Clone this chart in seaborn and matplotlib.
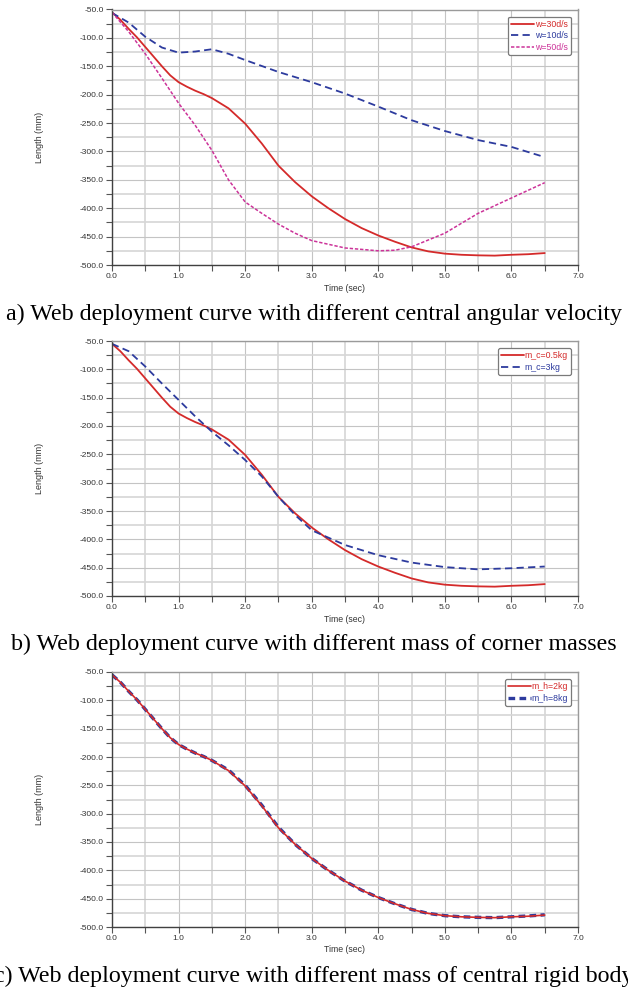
import matplotlib
matplotlib.use("Agg")
import matplotlib.pyplot as plt
import seaborn as sns
import numpy as np
from matplotlib.ticker import MultipleLocator, FormatStrFormatter

# ---------------- data ----------------
t_base = [0.0, 0.125, 0.25, 0.375, 0.5, 0.625, 0.75, 0.875, 1.0, 1.125, 1.25, 1.375, 1.5, 1.75,
          2.0, 2.25, 2.5, 2.75, 3.0, 3.25, 3.5, 3.75, 4.0, 4.25, 4.5, 4.75, 5.0, 5.25, 5.5,
          5.75, 6.0, 6.25, 6.5]
len_w30 = [-55, -68, -84, -99, -116, -133, -150, -166, -178, -186, -193, -199, -206, -224,
           -251, -286, -325, -354, -379, -400, -419, -435, -448, -459, -469, -476, -480, -482,
           -483, -483.5, -482, -481, -479]

t_w10 = [0.0, 0.25, 0.5, 0.75, 1.0, 1.25, 1.5, 1.75, 2.0, 2.5, 3.0, 3.5, 4.0, 4.5, 5.0, 5.5, 6.0, 6.5]
len_w10 = [-56, -73, -98, -117, -126, -124, -120, -128, -139, -160, -178, -198, -221, -245, -264, -280, -292, -310]

t_w50 = [0.0, 0.25, 0.5, 0.75, 1.0, 1.25, 1.5, 1.75, 2.0, 2.25, 2.5, 2.75, 3.0, 3.5, 4.0, 4.25,
         4.5, 5.0, 5.5, 6.0, 6.5]
len_w50 = [-55, -89, -128, -171, -215, -254, -298, -350, -389, -409, -428, -444, -457, -470, -475,
           -474, -468, -444, -409, -382, -355]

t_mc05 = t_base
len_mc05 = len_w30
t_mc3 = [0.0, 0.25, 0.5, 0.75, 1.0, 1.25, 1.5, 1.75, 2.0, 2.25, 2.5, 2.75, 3.0, 3.25, 3.5, 4.0,
         4.5, 5.0, 5.5, 6.0, 6.5]
len_mc3 = [-55, -68, -95, -125, -154, -183, -210, -234, -260, -289, -325, -357, -384, -397, -410,
           -428, -441, -449, -453, -451, -448]

t_mh2 = t_base
len_mh2 = len_w30
t_mh8 = t_base
len_mh8 = [-55, -68, -84, -99, -116, -133, -150, -166, -178, -186, -193, -199, -206, -223,
           -250, -285, -324, -354, -379, -400, -419, -435, -448, -459, -469, -476, -480, -482,
           -483, -483.5, -482, -480.5, -478.5]

captions = ["a) Web deployment curve with different central angular velocity",
            "b) Web deployment curve with different mass of corner masses",
            "c) Web deployment curve with different mass of central rigid body"]

RED = "#d42a2a"
BLUE = "#2d3b9e"
MAG = "#cc3399"

# ---------------- figure ----------------
sns.set_theme(style="white")
plt.rcParams["font.family"] = ["Liberation Sans", "DejaVu Sans"]

W, H = 628, 990
fig = plt.figure(figsize=(W / 100, H / 100), dpi=100)

panels = [(9.5, 265), (341, 596), (672, 927)]
cap_base = [320, 650, 982]
x0, x1 = 112, 578


def make_ax(top, bot):
    ax = fig.add_axes([x0 / W, 1 - bot / H, (x1 - x0) / W, (bot - top) / H])
    ax.set_xlim(0, 7)
    ax.set_ylim(-500, -50)
    ax.xaxis.set_major_locator(MultipleLocator(1))
    ax.xaxis.set_minor_locator(MultipleLocator(0.5))
    ax.yaxis.set_major_locator(MultipleLocator(50))
    ax.yaxis.set_minor_locator(MultipleLocator(25))
    ax.xaxis.set_major_formatter(FormatStrFormatter("%.1f"))
    ax.yaxis.set_major_formatter(FormatStrFormatter("%.1f"))
    ax.set_axisbelow(True)
    ax.grid(which="major", color="#c4c4c4", lw=0.8)
    ax.grid(which="minor", color="#d6d6d6", lw=1.2)
    ax.tick_params(which="both", direction="out", length=4, width=0.8, color="#555555",
                   labelsize=6, labelcolor="#333333", pad=2,
                   bottom=True, left=True, top=False, right=False)
    for s in ["left", "bottom"]:
        ax.spines[s].set_color("#404040")
        ax.spines[s].set_linewidth(1.0)
    for s in ["top", "right"]:
        ax.spines[s].set_color("#9a9a9a")
        ax.spines[s].set_linewidth(1.0)
    return ax


def style_legend(ax, top, bot, handles=None, labels=None):
    kw = dict(loc="upper right", bbox_to_anchor=(1 - 7 / (x1 - x0), 1 - 7 / (bot - top)),
              borderaxespad=0, fontsize=6.3, handlelength=2.6, handletextpad=0.1,
              labelspacing=0.3, borderpad=0.35, frameon=True, fancybox=True,
              edgecolor="#7a7a7a", facecolor="white", framealpha=1)
    if handles is None:
        leg = ax.legend(**kw)
    else:
        leg = ax.legend(handles, labels, **kw)
    leg.get_frame().set_linewidth(0.9)
    for txt, line in zip(leg.get_texts(), leg.get_lines()):
        txt.set_color(line.get_color())


def finish(ax, top, bot):
    ax.set_xlabel("Time (sec)", fontsize=6.3, color="#333333", va="center")
    ax.set_ylabel("Length (mm)", fontsize=6.5, color="#333333", va="center")
    ax.xaxis.set_label_coords(0.5, -23 / (bot - top))
    ax.yaxis.set_label_coords(-(x0 - 39) / (x1 - x0), 0.5)


# Panel a
top, bot = panels[0]
ax = make_ax(top, bot)
sns.lineplot(x=t_base, y=len_w30, ax=ax, color=RED, lw=1.3, label="w=30d/s")
sns.lineplot(x=t_w10, y=len_w10, ax=ax, color=BLUE, lw=1.3, linestyle="--", label="w=10d/s")
ax.lines[-1].set_dashes([4, 2.4])
sns.lineplot(x=t_w50, y=len_w50, ax=ax, color=MAG, lw=1.1, linestyle="--", label="w=50d/s")
ax.lines[-1].set_dashes([2.2, 1.2])
finish(ax, top, bot)
style_legend(ax, top, bot)

# Panel b
top, bot = panels[1]
ax = make_ax(top, bot)
sns.lineplot(x=t_mc05, y=len_mc05, ax=ax, color=RED, lw=1.3, label="m_c=0.5kg")
sns.lineplot(x=t_mc3, y=len_mc3, ax=ax, color=BLUE, lw=1.3, linestyle="--", label="m_c=3kg")
ax.lines[-1].set_dashes([4, 2.4])
finish(ax, top, bot)
style_legend(ax, top, bot)

# Panel c
top, bot = panels[2]
ax = make_ax(top, bot)
sns.lineplot(x=t_mh8, y=len_mh8, ax=ax, color=BLUE, lw=2.4, linestyle="--", label="m_h=8kg")
ax.lines[-1].set_dashes([2.0, 1.3])
sns.lineplot(x=t_mh2, y=len_mh2, ax=ax, color=RED, lw=1.2, label="m_h=2kg")
h, l = ax.get_legend_handles_labels()
finish(ax, top, bot)
style_legend(ax, top, bot, [h[1], h[0]], [l[1], l[0]])

for cy, cap in zip(cap_base, captions):
    fig.text(0.5, 1 - cy / H, cap, ha="center", va="baseline",
             family=["Liberation Serif", "DejaVu Serif"], fontsize=17.3, color="black")

fig.savefig("out.png", dpi=100)
